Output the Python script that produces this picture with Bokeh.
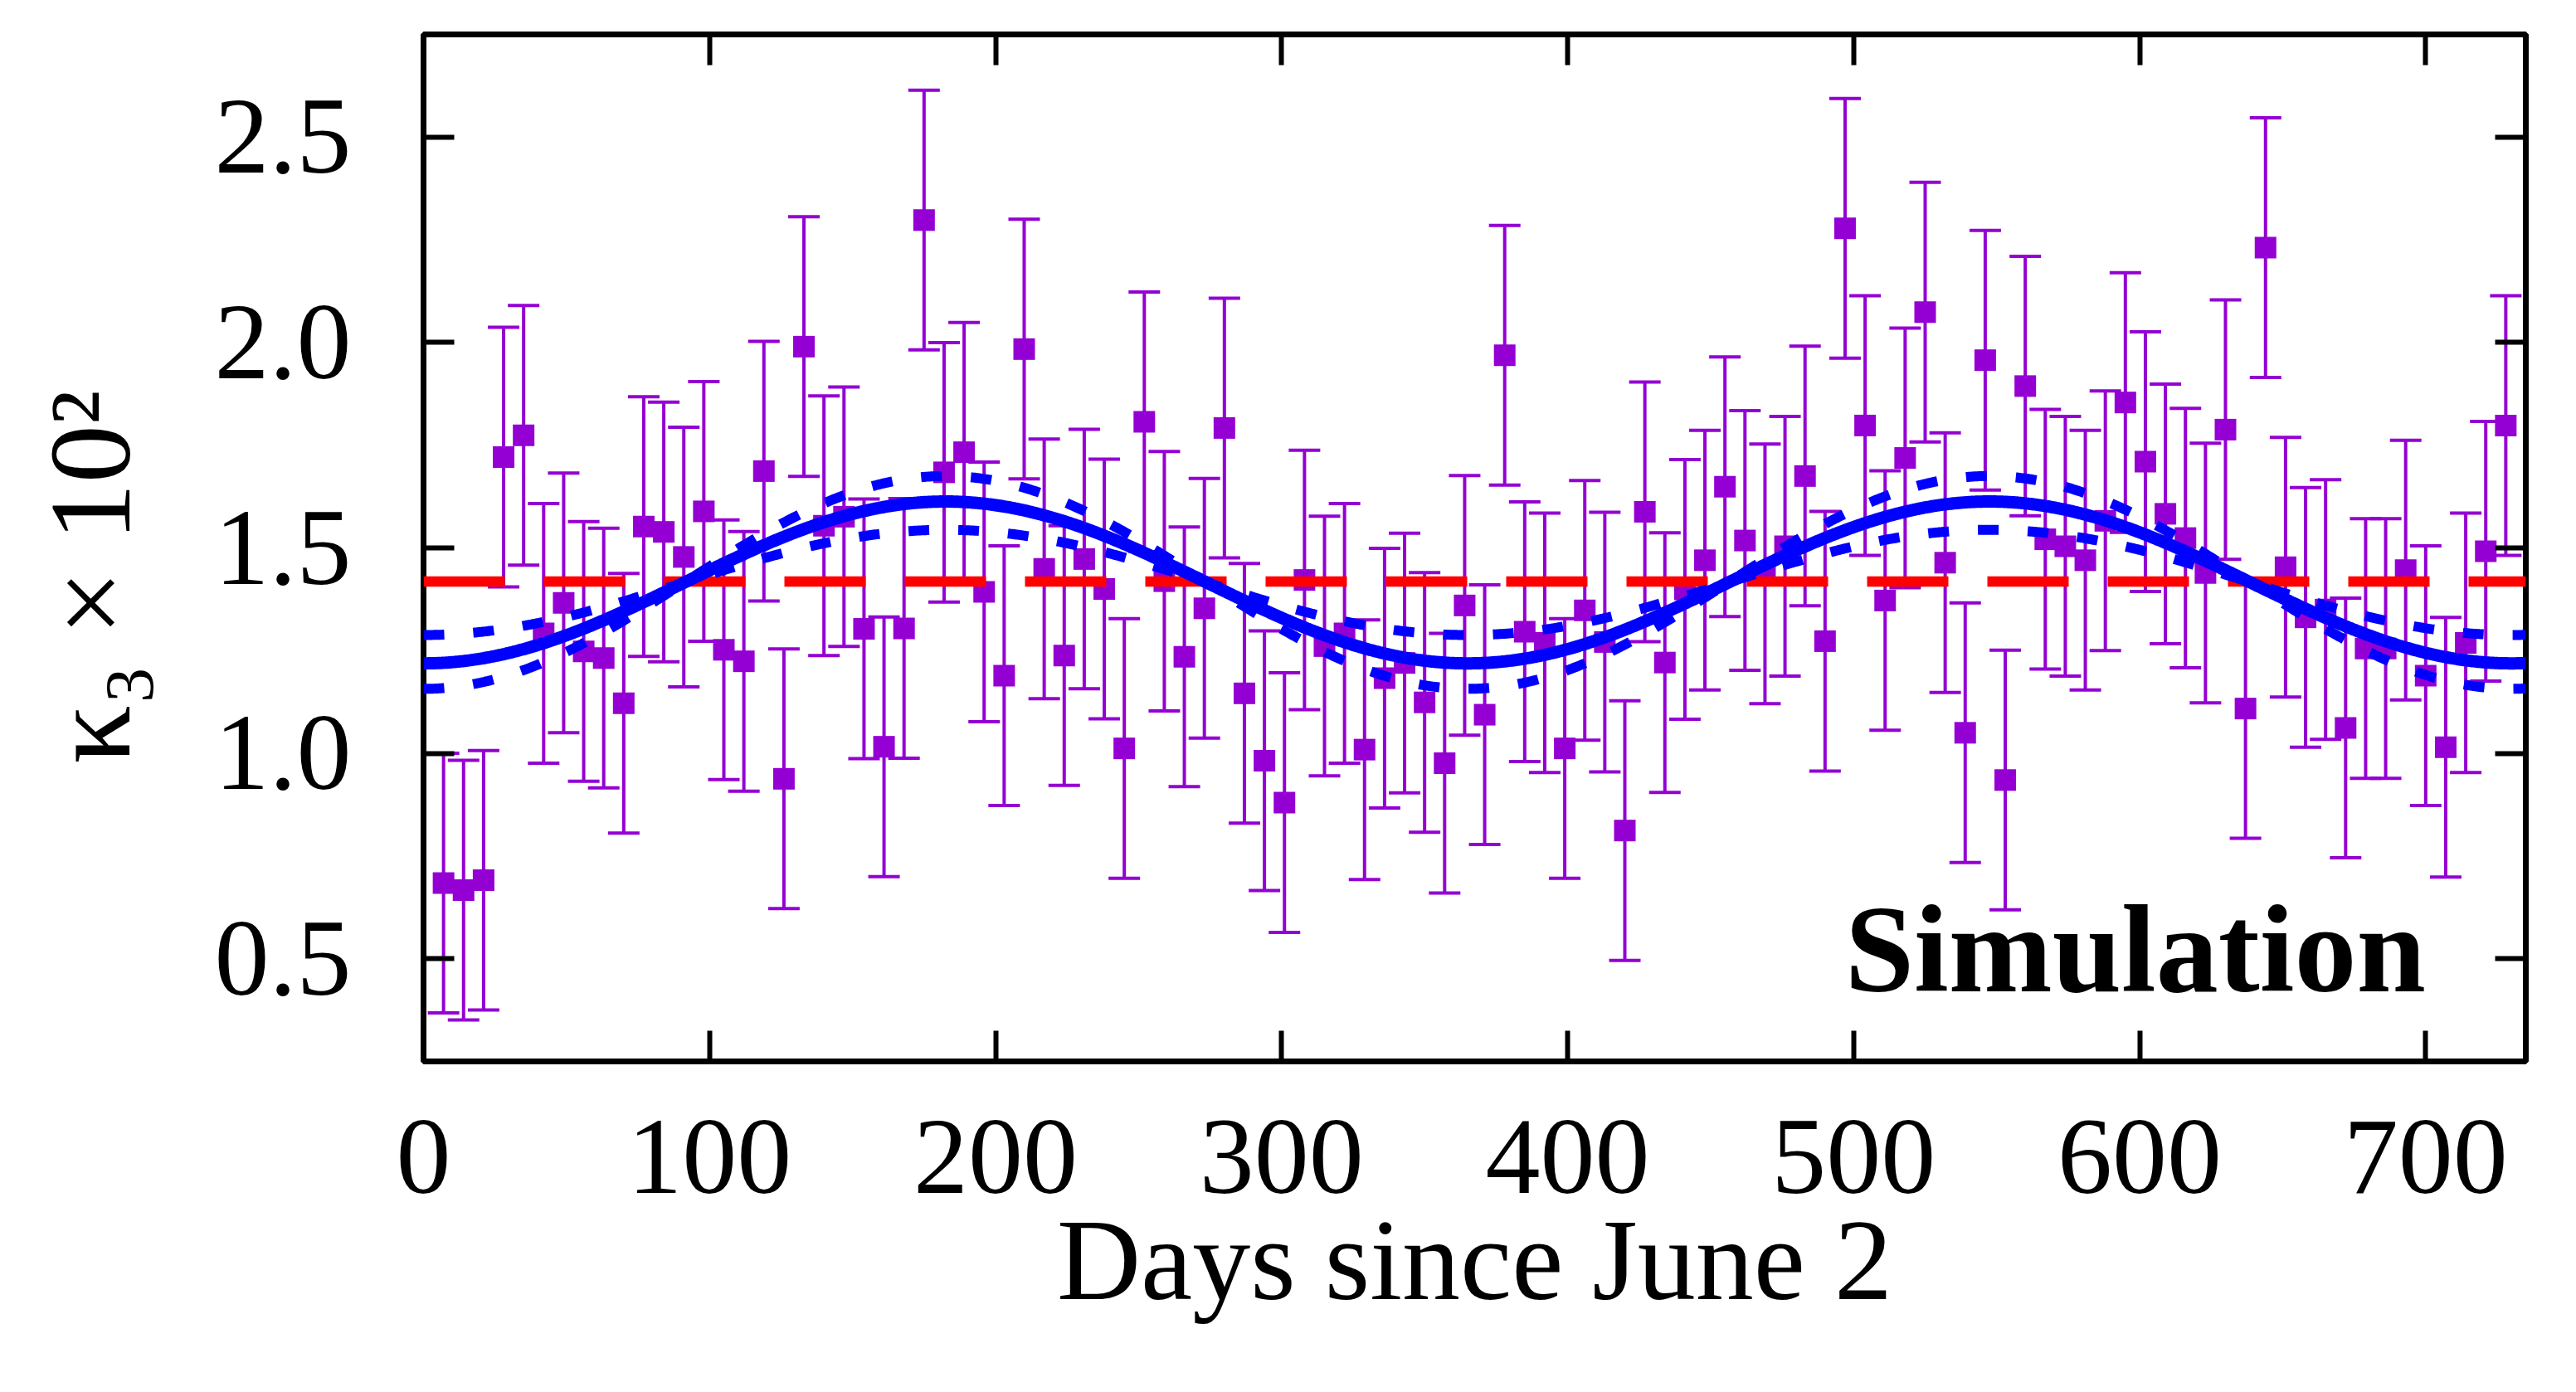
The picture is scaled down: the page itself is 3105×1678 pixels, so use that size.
import numpy as np
from bokeh.plotting import figure
from bokeh.models import (Range1d, FixedTicker, LinearAxis, Whisker, ColumnDataSource,
                          TeeHead, Label)
from bokeh.embed import file_html
from bokeh.resources import INLINE

# ---------------- data ----------------
days = [7, 14, 21, 28, 35, 42, 49, 56, 63, 70, 77, 84, 91, 98, 105, 112, 119, 126,
        133, 140, 147, 154, 161, 168, 175, 182, 189, 196, 203, 210, 217, 224, 231,
        238, 245, 252, 259, 266, 273, 280, 287, 294, 301, 308, 315, 322, 329, 336,
        343, 350, 357, 364, 371, 378, 385, 392, 399, 406, 413, 420, 427, 434, 441,
        448, 455, 462, 469, 476, 483, 490, 497, 504, 511, 518, 525, 532, 539, 546,
        553, 560, 567, 574, 581, 588, 595, 602, 609, 616, 623, 630, 637, 644, 651,
        658, 665, 672, 679, 686, 693, 700, 707, 714, 721, 728]

kappa3 = [0.684, 0.667, 0.691, 1.721, 1.774, 1.292, 1.366, 1.248, 1.232, 1.122,
          1.552, 1.539, 1.478, 1.589, 1.252, 1.224, 1.687, 0.938, 1.990, 1.554,
          1.576, 1.303, 1.016, 1.304, 2.298, 1.684, 1.733, 1.393, 1.189, 1.984,
          1.449, 1.238, 1.473, 1.400, 1.012, 1.807, 1.419, 1.235, 1.353, 1.792,
          1.146, 0.982, 0.880, 1.422, 1.261, 1.292, 1.009, 1.183, 1.220, 1.124,
          0.976, 1.360, 1.094, 1.969, 1.296, 1.269, 1.012, 1.348, 1.271, 0.812,
          1.588, 1.221, 1.399, 1.470, 1.649, 1.518, 1.437, 1.504, 1.675, 1.273,
          2.278, 1.798, 1.372, 1.719, 2.074, 1.464, 1.050, 1.957, 0.935, 1.894,
          1.521, 1.504, 1.470, 1.566, 1.854, 1.710, 1.583, 1.524, 1.439, 1.788,
          1.109, 2.231, 1.453, 1.331, 1.350, 1.062, 1.255, 1.255, 1.446, 1.189,
          1.015, 1.269, 1.492, 1.798]

kappa3_err = 0.316

# constant fit (red dashed) and annual-modulation fit (blue)
const_fit = 1.418
mod_mean = 1.416
mod_amp = 0.197
mod_amp_hi = 0.259
mod_amp_lo = 0.128
mod_period = 365.0

x_ticks = [0, 100, 200, 300, 400, 500, 600, 700]
x_tick_labels = ["0", "100", "200", "300", "400", "500", "600", "700"]
y_ticks = [0.5, 1.0, 1.5, 2.0, 2.5]
y_tick_labels = ["0.5", "1.0", "1.5", "2.0", "2.5"]

FONT = "Liberation Serif"

# ---------------- figure ----------------
p = figure(width=3089, height=1662,
           x_range=Range1d(0, 735), y_range=Range1d(0.25, 2.75),
           output_backend="svg", toolbar_location=None,
           min_border_left=510, min_border_right=45,
           min_border_top=41, min_border_bottom=383)
p.background_fill_color = "white"
p.border_fill_color = "white"
p.outline_line_color = "black"
p.outline_line_width = 7
p.xgrid.visible = False
p.ygrid.visible = False

src = ColumnDataSource(dict(
    x=days, y=kappa3,
    lo=[v - kappa3_err for v in kappa3],
    hi=[v + kappa3_err for v in kappa3]))

wh = Whisker(source=src, base="x", lower="lo", upper="hi",
             line_color="#9400D3", line_width=4,
             upper_head=TeeHead(size=38, line_color="#9400D3", line_width=4),
             lower_head=TeeHead(size=38, line_color="#9400D3", line_width=4),
             level="underlay")
p.add_layout(wh)

p.scatter("x", "y", source=src, marker="square", size=26,
          fill_color="#9400D3", line_color="#9400D3", line_width=0)

# fits
t = np.linspace(0, 735, 1500)
phase = np.cos(2 * np.pi * t / mod_period)
p.line([0, 735], [const_fit, const_fit], line_color="#FF0000", line_width=12.5,
       line_dash="98 47")
p.line(t, mod_mean - mod_amp_hi * phase, line_color="#0000FF", line_width=12,
       line_dash="25 35")
p.line(t, mod_mean - mod_amp_lo * phase, line_color="#0000FF", line_width=12,
       line_dash="25 35")
p.line(t, mod_mean - mod_amp * phase, line_color="#0000FF", line_width=15)

# axes
def style_axis(ax, ticks, labels, show_labels):
    ax.ticker = FixedTicker(ticks=ticks)
    ax.minor_tick_line_color = None
    ax.major_tick_in = 37
    ax.major_tick_out = 0
    ax.major_tick_line_width = 6
    ax.major_tick_line_color = "black"
    ax.axis_line_color = None
    ax.major_label_overrides = {tk: lb for tk, lb in zip(ticks, labels)}
    ax.major_label_text_font = FONT
    if show_labels:
        ax.major_label_text_color = "black"
        ax.major_label_text_font_size = "132px"
    else:
        ax.major_label_text_color = None
        ax.major_label_text_font_size = "1px"
        ax.major_label_standoff = 0

xa = p.xaxis[0]
style_axis(xa, x_ticks, x_tick_labels, True)
xa.major_label_standoff = 72
xa.axis_label = "Days since June 2"
xa.axis_label_text_font = FONT
xa.axis_label_text_font_size = "140px"
xa.axis_label_text_font_style = "normal"
xa.axis_label_text_color = "black"
xa.axis_label_standoff = 0

ya = p.yaxis[0]
style_axis(ya, y_ticks, y_tick_labels, True)
ya.major_label_standoff = 87
ya.axis_label = "κ₃ × 10²\u00a0\u00a0"
ya.axis_label_text_font = FONT
ya.axis_label_text_font_size = "140px"
ya.axis_label_text_font_style = "normal"
ya.axis_label_text_color = "black"
ya.axis_label_standoff = 70

top = LinearAxis()
style_axis(top, x_ticks, x_tick_labels, False)
p.add_layout(top, "above")
right = LinearAxis()
style_axis(right, y_ticks, y_tick_labels, False)
p.add_layout(right, "right")

p.add_layout(Label(x=700, y=0.523, text="Simulation", text_align="right",
                   text_baseline="alphabetic", text_font=FONT,
                   text_font_style="bold", text_font_size="150px",
                   text_color="black"))

open("out.html", "w").write(file_html(p, INLINE))
